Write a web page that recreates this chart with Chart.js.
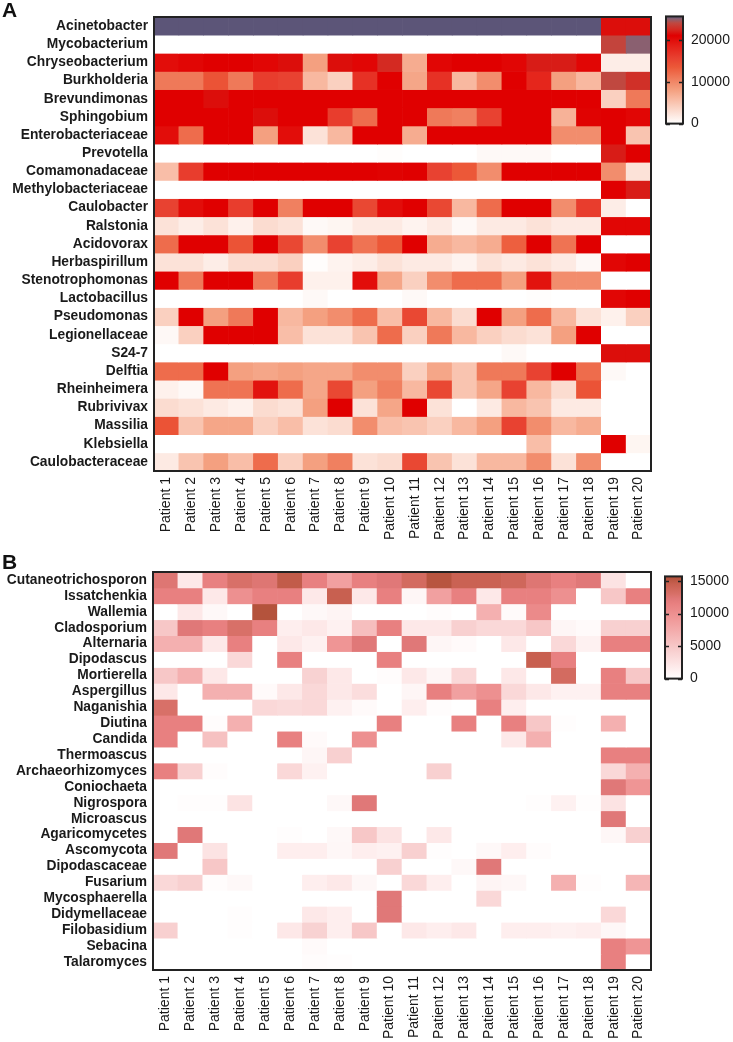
<!DOCTYPE html>
<html>
<head>
<meta charset="utf-8"/>
<title>Heatmaps</title>
<script src="https://cdn.jsdelivr.net/npm/chart.js@4.4.1/dist/chart.umd.min.js"></script>
<style>
  body { margin:0; background:#fff; width:733px; height:1042px; position:relative; overflow:hidden; }
  canvas { position:absolute; }
  .panel { position:absolute; font-family:"Liberation Sans", Arial, sans-serif; font-weight:bold; font-size:21px; line-height:21px; color:#111; z-index:2; }
</style>
</head>
<body>
<canvas id="heatA" width="733" height="545" style="left:0;top:0"></canvas>
<canvas id="barA" width="73" height="140" style="left:660px;top:0"></canvas>
<canvas id="heatB" width="733" height="497" style="left:0;top:545px"></canvas>
<canvas id="barB" width="73" height="135" style="left:660px;top:560px"></canvas>
<div class="panel" style="left:2px;top:-1px">A</div>
<div class="panel" style="left:2px;top:551px">B</div>
<script>
// ---- data ----
const patients = ['Patient 1','Patient 2','Patient 3','Patient 4','Patient 5','Patient 6','Patient 7','Patient 8','Patient 9','Patient 10',
  'Patient 11','Patient 12','Patient 13','Patient 14','Patient 15','Patient 16','Patient 17','Patient 18','Patient 19','Patient 20'];

const bacteria = ['Acinetobacter','Mycobacterium','Chryseobacterium','Burkholderia','Brevundimonas','Sphingobium','Enterobacteriaceae',
  'Prevotella','Comamonadaceae','Methylobacteriaceae','Caulobacter','Ralstonia','Acidovorax','Herbaspirillum','Stenotrophomonas',
  'Lactobacillus','Pseudomonas','Legionellaceae','S24-7','Delftia','Rheinheimera','Rubrivivax','Massilia','Klebsiella','Caulobacteraceae'];

const bacteriaCounts = [
  [26000,26000,26000,26000,26000,26000,26000,26000,26000,26000,26000,26000,26000,26000,26000,26000,26000,26000,21500,21500],
  [0,0,0,0,0,0,0,0,0,0,0,0,0,0,0,0,0,0,23800,25000],
  [20000,20500,21000,21000,20500,21500,8000,21500,20500,22500,7000,20500,21000,21000,20500,22000,22000,20500,1500,1500],
  [11000,11000,14000,11000,16000,15500,6000,4000,17000,21000,7500,17000,6000,9500,21000,18000,8000,6000,24000,22800],
  [21000,21000,21500,21000,21000,21000,21000,21000,21000,21000,21000,21000,21000,21000,21000,21000,21000,21000,4000,11000],
  [21000,21000,21000,21000,21500,21000,21000,16000,12000,21000,21000,11000,10500,15500,21000,21000,6500,20800,21000,20500],
  [20000,12000,21000,21000,8000,20000,2500,6000,21000,21000,7000,21000,21000,21000,21000,21000,9500,9500,21000,5000],
  [0,0,0,0,0,0,0,0,0,200,0,0,0,500,500,500,0,0,22000,21000],
  [5500,16000,21000,21000,21000,21000,21000,21000,21000,20800,21000,15500,13500,9500,21000,21000,21000,21000,9500,2500],
  [0,0,0,0,0,0,0,0,0,0,0,0,0,0,0,0,0,0,21000,22000],
  [15500,20000,21000,16000,21000,10500,21000,21000,15000,20000,21000,15000,6000,12000,21000,21000,9500,16000,1500,0],
  [2500,1500,2500,1200,3000,2500,500,800,1800,1800,1000,1800,600,1800,1800,2500,1800,1800,20500,20500],
  [12000,21000,21000,14000,21000,15000,9500,15500,11500,13500,21000,7000,6000,7000,13000,21000,11500,21000,0,0],
  [2500,2500,1500,3000,3000,4000,200,1000,1500,2500,1800,1800,1000,2500,1800,2500,1800,600,20500,21000],
  [21000,11000,21000,21000,11000,16000,1200,1200,20000,7500,4000,9500,12000,12000,8000,19500,9500,9500,0,0],
  [0,0,0,0,0,0,500,0,0,0,500,0,0,0,0,200,0,0,20500,21000],
  [4000,21000,8000,11000,21000,6000,8000,9500,12000,5500,15000,6000,3000,21000,8000,12000,6000,2500,1200,4000],
  [600,4000,21000,21000,21000,5500,2500,2500,5000,12000,4000,11000,6000,4000,3000,2500,8000,21000,0,0],
  [0,0,0,0,0,0,0,0,0,0,0,0,0,0,500,0,0,0,21500,21500],
  [12000,12000,21000,8000,7500,8000,7500,7500,9500,9500,4000,7500,5000,11000,11000,15500,21000,12000,500,0],
  [1200,600,11500,11500,19500,12000,7500,15000,8000,10500,6000,15000,5000,7500,15500,6000,3000,14000,0,0],
  [3000,2500,1800,1200,3000,2500,8000,21000,2500,7500,21000,2500,0,1800,6000,5000,1800,1800,0,0],
  [14000,5000,7500,7500,4000,5500,2500,3000,9500,5500,5000,4000,6000,8000,15500,9500,6000,7000,0,0],
  [0,0,0,0,0,0,0,0,0,0,0,0,0,0,0,5500,0,0,21000,800],
  [1800,5000,8000,5500,12000,4000,8000,10500,2500,3000,15000,5000,2500,6000,6000,9500,2500,9500,0,0]
];

const fungi = ['Cutaneotrichosporon','Issatchenkia','Wallemia','Cladosporium','Alternaria','Dipodascus','Mortierella','Aspergillus',
  'Naganishia','Diutina','Candida','Thermoascus','Archaeorhizomyces','Coniochaeta','Nigrospora','Microascus','Agaricomycetes',
  'Ascomycota','Dipodascaceae','Fusarium','Mycosphaerella','Didymellaceae','Filobasidium','Sebacina','Talaromyces'];

const fungiCounts = [
  [12500,2000,11500,13000,12500,14800,11500,8500,11500,12300,13500,15300,14300,14300,13800,12500,11500,12300,2500,0],
  [11500,11500,2000,10000,11500,11500,2000,14500,2000,11500,800,8500,11500,2000,11500,11500,10000,0,5000,11500],
  [0,2000,600,0,15500,0,600,1000,0,0,0,300,0,7000,400,10500,0,0,0,0],
  [5000,12300,11500,13000,11500,1500,2000,1200,5800,11500,2000,2000,4200,3500,3500,5000,800,400,4200,4200],
  [7000,7000,2000,11500,0,2000,1200,9500,12300,0,12300,800,400,0,2000,0,3500,1200,11500,11500],
  [0,0,0,3500,0,11500,0,0,0,11500,0,0,0,0,0,14500,11500,0,0,0],
  [5000,7000,2000,0,0,0,4000,2000,0,300,2000,800,3500,0,2000,0,13500,0,11500,5000],
  [2000,0,7000,7000,400,2000,3500,2000,3000,0,800,11500,8500,10000,3500,2000,1200,1200,11500,11500],
  [13000,0,0,0,3500,3200,3500,1200,400,0,1500,300,0,11500,1500,0,0,0,0,0],
  [11500,11500,300,7000,0,0,0,0,0,11500,0,0,11500,0,11500,5000,200,0,7000,0],
  [11500,0,5500,0,0,11500,400,0,10000,0,0,0,0,0,2000,7000,0,0,0,0],
  [0,0,0,0,0,0,800,4200,0,0,0,0,0,0,0,0,0,0,11500,11500],
  [11500,4200,300,0,0,3500,1200,0,0,0,0,4200,0,0,0,0,0,0,3500,7000],
  [0,0,0,0,0,0,0,0,0,0,0,0,0,0,0,0,0,0,12300,9500],
  [0,200,200,2500,0,0,0,600,12300,0,0,0,0,0,0,200,1200,200,2500,0],
  [0,0,0,0,0,0,0,0,0,0,0,0,0,0,0,0,0,0,12300,0],
  [0,12300,0,0,0,200,0,600,5000,2500,0,2000,0,0,0,0,0,0,700,4200],
  [12300,0,2500,0,0,1500,1500,700,1500,1200,4200,200,0,600,1500,300,0,0,0,0],
  [0,0,5000,0,0,0,0,0,0,4200,0,0,600,12300,0,0,0,0,0,0],
  [3500,4200,300,600,0,0,1500,2000,700,0,3500,1500,0,1000,700,0,7000,200,0,6500],
  [0,0,0,0,0,0,0,0,0,12300,0,0,0,3500,0,0,0,0,0,0],
  [0,0,0,200,0,0,2000,1500,0,12300,0,0,0,0,0,0,0,0,3500,0],
  [4200,0,0,200,0,2000,4000,1500,5000,0,2000,1500,2000,0,1500,1500,1200,1500,700,0],
  [0,0,0,0,0,0,400,0,0,0,0,0,0,0,0,0,0,0,11500,9500],
  [0,0,0,0,0,0,300,200,0,0,0,0,0,0,0,0,0,0,11500,0]
];

const ticksA = [0, 10000, 20000];
const ticksB = [0, 5000, 10000, 15000];

// ---- colour scales ----
const paletteA = [[0,'#ffffff'],[4000,'#fad0c0'],[6000,'#f8b8a0'],[8000,'#f4a080'],[10500,'#f08060'],[13500,'#ec5838'],
  [15700,'#e84030'],[18500,'#e42018'],[21000,'#e00000'],[22500,'#d42a22'],[24000,'#c04840'],[25000,'#8a6070'],[25600,'#5c5578']];
const paletteB = [[0,'#ffffff'],[2000,'#fde8e8'],[4200,'#f8d0d0'],[7000,'#f4b0b0'],[9200,'#f09898'],[11500,'#e88080'],
  [12300,'#e07878'],[13000,'#d87068'],[14500,'#c86050'],[15700,'#b05038']];

Chart.defaults.font.family = '"Liberation Sans", Arial, sans-serif';
Chart.defaults.color = '#1a1a1a';

function hexRgb(h) { return [1, 3, 5].map(i => parseInt(h.substr(i, 2), 16)); }

function colorAt(pal, v) {
  if (v <= pal[0][0]) return pal[0][1];
  for (let i = 1; i < pal.length; i++) {
    if (v <= pal[i][0]) {
      const t = (v - pal[i-1][0]) / (pal[i][0] - pal[i-1][0]);
      const a = hexRgb(pal[i-1][1]), b = hexRgb(pal[i][1]);
      return 'rgb(' + a.map((c, k) => Math.round(c + (b[k] - c) * t)).join(',') + ')';
    }
  }
  return pal[pal.length - 1][1];
}

const frame = {
  id: 'frame',
  afterDatasetsDraw(chart) {
    const a = chart.chartArea, ctx = chart.ctx;
    ctx.save();
    ctx.strokeStyle = '#222';
    ctx.lineWidth = 2;
    ctx.strokeRect(a.left, a.top, a.right - a.left, a.bottom - a.top);
    ctx.restore();
  }
};

const tickMarks = {
  id: 'tickMarks',
  afterDatasetsDraw(chart) {
    const a = chart.chartArea, ctx = chart.ctx, y = chart.scales.y;
    ctx.save();
    ctx.strokeStyle = '#222';
    ctx.lineWidth = 1.5;
    y.ticks.forEach(t => {
      const py = Math.round(y.getPixelForValue(t.value)) + 0.5;
      ctx.beginPath();
      ctx.moveTo(a.left, py); ctx.lineTo(a.left + 4, py);
      ctx.moveTo(a.right - 4, py); ctx.lineTo(a.right, py);
      ctx.stroke();
    });
    ctx.restore();
  }
};

function heatConfig(rows, values, pal, padTop, leftW, axisH) {
  return {
    type: 'bar',
    data: {
      labels: patients,
      datasets: rows.map((name, r) => ({
        label: name,
        data: patients.map(() => [r, r + 1]),
        backgroundColor: values[r].map(v => colorAt(pal, v)),
        borderWidth: 0,
        barPercentage: 1,
        categoryPercentage: 1,
        grouped: false
      }))
    },
    options: {
      responsive: false,
      animation: false,
      devicePixelRatio: 1,
      layout: { padding: { top: padTop, right: 82, left: 0, bottom: 0 } },
      plugins: { legend: { display: false }, tooltip: { enabled: false } },
      scales: {
        x: {
          grid: { display: false, drawTicks: false },
          border: { display: false },
          ticks: { minRotation: 90, maxRotation: 90, autoSkip: false, padding: 6, font: { size: 14 } },
          afterFit: s => { s.height = axisH; }
        },
        y: {
          min: 0, max: rows.length, reverse: true,
          grid: { display: false, drawTicks: false },
          border: { display: false },
          afterBuildTicks: s => { s.ticks = rows.map((_, i) => ({ value: i + 0.5 })); },
          ticks: { autoSkip: false, padding: 6, font: { size: 13.8, weight: 'bold' }, callback: (v, i) => rows[i] },
          afterFit: s => { s.width = leftW; }
        }
      }
    },
    plugins: [frame]
  };
}

function barConfig(pal, max, tickVals, pad, axisW) {
  return {
    type: 'bar',
    data: {
      labels: [''],
      datasets: [{
        data: [[0, max]],
        backgroundColor: ctx => {
          const chart = ctx.chart;
          if (!chart.chartArea) return null;
          const y = chart.scales.y;
          const g = chart.ctx.createLinearGradient(0, y.getPixelForValue(0), 0, y.getPixelForValue(max));
          pal.forEach(([v, c]) => g.addColorStop(Math.min(1, v / max), c));
          return g;
        },
        borderWidth: 0,
        barPercentage: 1,
        categoryPercentage: 1
      }]
    },
    options: {
      responsive: false,
      animation: false,
      devicePixelRatio: 1,
      layout: { padding: pad },
      plugins: { legend: { display: false }, tooltip: { enabled: false } },
      scales: {
        x: { display: false },
        y: {
          position: 'right', min: 0, max: max,
          grid: { display: false, drawTicks: false },
          border: { display: false },
          afterBuildTicks: s => { s.ticks = tickVals.map(v => ({ value: v })); },
          ticks: { padding: 8, font: { size: 14 }, callback: v => String(v) },
          afterFit: s => { s.width = axisW; }
        }
      }
    },
    plugins: [frame, tickMarks]
  };
}

new Chart(document.getElementById('heatA'), heatConfig(bacteria, bacteriaCounts, paletteA, 17, 154, 74));
new Chart(document.getElementById('heatB'), heatConfig(fungi, fungiCounts, paletteB, 27, 153, 72));
new Chart(document.getElementById('barA'), barConfig(paletteA, 25600, ticksA, { left: 6, top: 16, bottom: 12, right: 0 }, 50));
new Chart(document.getElementById('barB'), barConfig(paletteB, 15700, ticksB, { left: 5, top: 12, bottom: 13, right: 0 }, 51));
</script>
</body>
</html>
